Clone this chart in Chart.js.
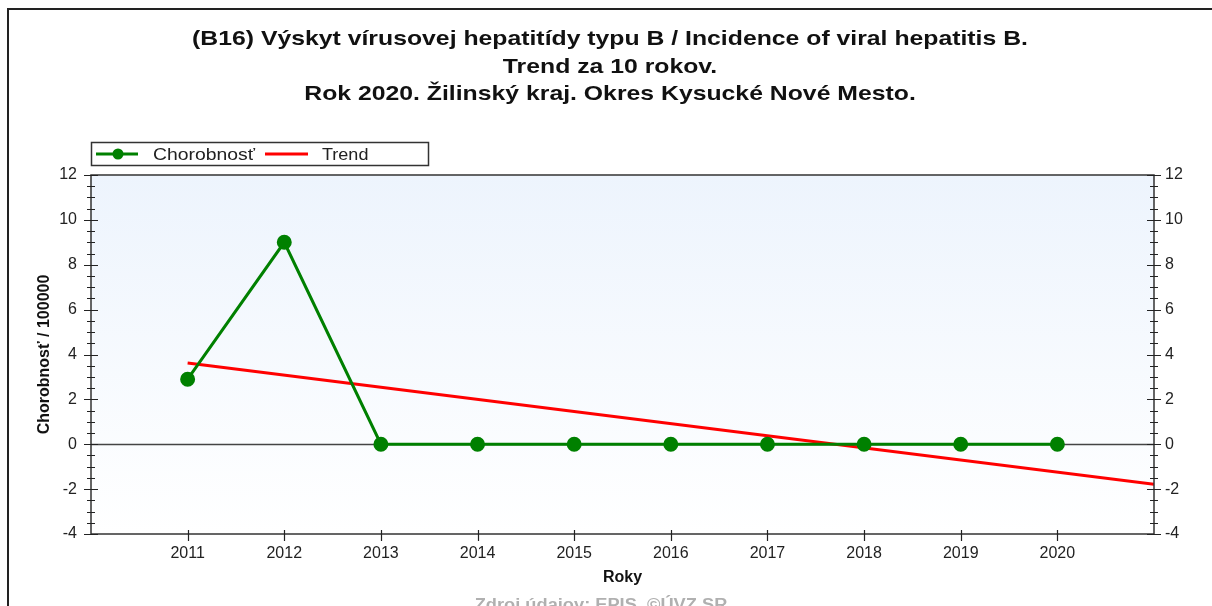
<!DOCTYPE html>
<html><head><meta charset="utf-8">
<script src="https://cdn.jsdelivr.net/npm/chart.js@4/dist/chart.umd.min.js"></script>
<style>html,body{margin:0;padding:0;background:#fff;overflow:hidden}</style>
</head><body>
<canvas id="c" width="1212" height="606"></canvas>
<script>
// ---- data ----
const titleLines = [
  "(B16) Výskyt vírusovej hepatitídy typu B / Incidence of viral hepatitis B.",
  "Trend za 10 rokov.",
  "Rok 2020. Žilinský kraj. Okres Kysucké Nové Mesto."
];
const years = [2011, 2012, 2013, 2014, 2015, 2016, 2017, 2018, 2019, 2020];
const incidence = [2.9, 9.0, 0, 0, 0, 0, 0, 0, 0, 0];
const trendYears = [2011, 2021];
const trendValues = [3.62, -1.78];
const seriesLabel = "Chorobnosť";
const trendLabel = "Trend";
const yAxisTitle = "Chorobnosť / 100000";
const xAxisTitle = "Roky";
const sourceText = "Zdroj údajov: EPIS, ©ÚVZ SR";
const xRange = [2010, 2021];
const yRange = [-4, 12];

const FONT = "'Liberation Sans', Arial, sans-serif";

// draw text stretched horizontally by sx, anchored by align
function stretchText(ctx, text, x, y, sx, align) {
  ctx.save();
  ctx.translate(x, y);
  ctx.scale(sx, 1);
  ctx.textAlign = align;
  ctx.fillText(text, 0, 0);
  ctx.restore();
}

const decor = {
  id: 'decor',
  beforeDraw(chart) {
    const ctx = chart.ctx, a = chart.chartArea;
    ctx.save();
    ctx.fillStyle = '#fff';
    ctx.fillRect(0, 0, chart.width, chart.height);
    ctx.strokeStyle = '#222'; ctx.lineWidth = 2;
    ctx.beginPath(); ctx.moveTo(8, chart.height + 2); ctx.lineTo(8, 9); ctx.lineTo(chart.width + 2, 9); ctx.stroke();
    const g = ctx.createLinearGradient(0, a.top, 0, a.bottom);
    g.addColorStop(0, '#edf4fd'); g.addColorStop(1, '#ffffff');
    ctx.fillStyle = g;
    ctx.fillRect(a.left, a.top, a.right - a.left, a.bottom - a.top);
    ctx.restore();
  },
  beforeDatasetsDraw(chart) {
    const ctx = chart.ctx, a = chart.chartArea, y = chart.scales.y;
    ctx.save();
    ctx.strokeStyle = '#444'; ctx.lineWidth = 1.5;
    const y0 = Math.round(y.getPixelForValue(0)) + 0.5;
    ctx.beginPath(); ctx.moveTo(a.left, y0); ctx.lineTo(a.right, y0); ctx.stroke();
    ctx.restore();
  },
  afterDraw(chart) {
    const ctx = chart.ctx, a = chart.chartArea, ys = chart.scales.y, xs = chart.scales.x;
    ctx.save();
    ctx.strokeStyle = '#333'; ctx.lineWidth = 1.5;
    ctx.strokeRect(a.left, a.top, a.right - a.left, a.bottom - a.top);
    ctx.lineWidth = 1.2; ctx.strokeStyle = '#222';
    ctx.beginPath();
    for (let v = yRange[0]; v <= yRange[1] + 1e-9; v += 0.5) {
      const py = Math.round(ys.getPixelForValue(v)) + 0.5;
      const major = Math.abs(v / 2 - Math.round(v / 2)) < 1e-9;
      const L = major ? 7 : 4;
      ctx.moveTo(a.left - L, py); ctx.lineTo(a.left + L, py);
      ctx.moveTo(a.right - L, py); ctx.lineTo(a.right + L, py);
    }
    for (const yr of years) {
      const px = Math.round(xs.getPixelForValue(yr)) + 0.5;
      ctx.moveTo(px, a.bottom - 4); ctx.lineTo(px, a.bottom + 7);
    }
    ctx.stroke();

    // title
    ctx.fillStyle = '#111';
    ctx.font = 'bold 21px ' + FONT;
    ctx.textBaseline = 'alphabetic';
    const base = [45, 72.5, 100];
    titleLines.forEach((t, i) => stretchText(ctx, t, 610, base[i], 1.18, 'center'));

    // legend
    const lx = 91, ly = 142, lw = 337, lh = 23;
    ctx.fillStyle = '#fff';
    ctx.fillRect(lx, ly, lw, lh);
    ctx.strokeStyle = '#333'; ctx.lineWidth = 1.5;
    ctx.strokeRect(lx + 0.5, ly + 0.5, lw, lh);
    const cy = ly + lh / 2 + 0.5;
    ctx.strokeStyle = '#008000'; ctx.lineWidth = 3;
    ctx.beginPath(); ctx.moveTo(96, cy); ctx.lineTo(138, cy); ctx.stroke();
    ctx.fillStyle = '#008000';
    ctx.beginPath(); ctx.arc(118, cy, 5.5, 0, Math.PI * 2); ctx.fill();
    ctx.strokeStyle = '#ff0000';
    ctx.beginPath(); ctx.moveTo(265, cy); ctx.lineTo(308, cy); ctx.stroke();
    ctx.fillStyle = '#222';
    ctx.font = '17px ' + FONT;
    stretchText(ctx, seriesLabel, 153, 160, 1.14, 'left');
    stretchText(ctx, trendLabel, 322, 160, 1.06, 'left');

    // source
    ctx.fillStyle = '#b0b0b0';
    ctx.font = 'bold 16px ' + FONT;
    stretchText(ctx, sourceText, 601, 610, 1.14, 'center');
    ctx.restore();
  }
};

const tickFont = { family: FONT, size: 16 };

new Chart(document.getElementById('c'), {
  type: 'line',
  data: {
    datasets: [
      {
        label: seriesLabel,
        data: years.map((x, i) => ({ x, y: incidence[i] })),
        borderColor: '#008000', backgroundColor: '#008000',
        borderWidth: 3, pointRadius: 6, pointHoverRadius: 6,
        pointBackgroundColor: '#008000', pointBorderColor: '#008000',
        tension: 0, fill: false
      },
      {
        label: trendLabel,
        data: trendYears.map((x, i) => ({ x, y: trendValues[i] })),
        borderColor: '#ff0000', borderWidth: 3, pointRadius: 0,
        tension: 0, fill: false
      }
    ]
  },
  options: {
    responsive: false, animation: false, devicePixelRatio: 1,
    layout: { padding: { top: 175, left: 0, right: 0, bottom: 0 } },
    plugins: { legend: { display: false }, title: { display: false }, tooltip: { enabled: false } },
    events: [],
    scales: {
      x: {
        type: 'linear', min: xRange[0], max: xRange[1],
        afterBuildTicks: s => { s.ticks = years.map(v => ({ value: v })); },
        afterFit: s => { s.height = 72; },
        grid: { display: false }, border: { display: false },
        ticks: { font: tickFont, color: '#222', padding: 2, maxRotation: 0, autoSkip: false, callback: v => String(v) },
        title: { display: true, text: xAxisTitle, color: '#111', font: { family: FONT, size: 16, weight: 'bold' }, padding: { top: 0, bottom: 19 } }
      },
      y: {
        position: 'left', min: yRange[0], max: yRange[1],
        afterFit: s => { s.width = 91; },
        grid: { display: false }, border: { display: false },
        ticks: { stepSize: 2, font: tickFont, color: '#222', padding: 6 },
        title: { display: true, text: yAxisTitle, color: '#111', font: { family: FONT, size: 16, weight: 'bold' }, padding: { top: 35, bottom: 0 } }
      },
      y2: {
        position: 'right', min: yRange[0], max: yRange[1],
        afterFit: s => { s.width = 58; },
        grid: { display: false }, border: { display: false },
        ticks: { stepSize: 2, font: tickFont, color: '#222', padding: 3 }
      }
    }
  },
  plugins: [decor]
});
</script>
</body></html>
